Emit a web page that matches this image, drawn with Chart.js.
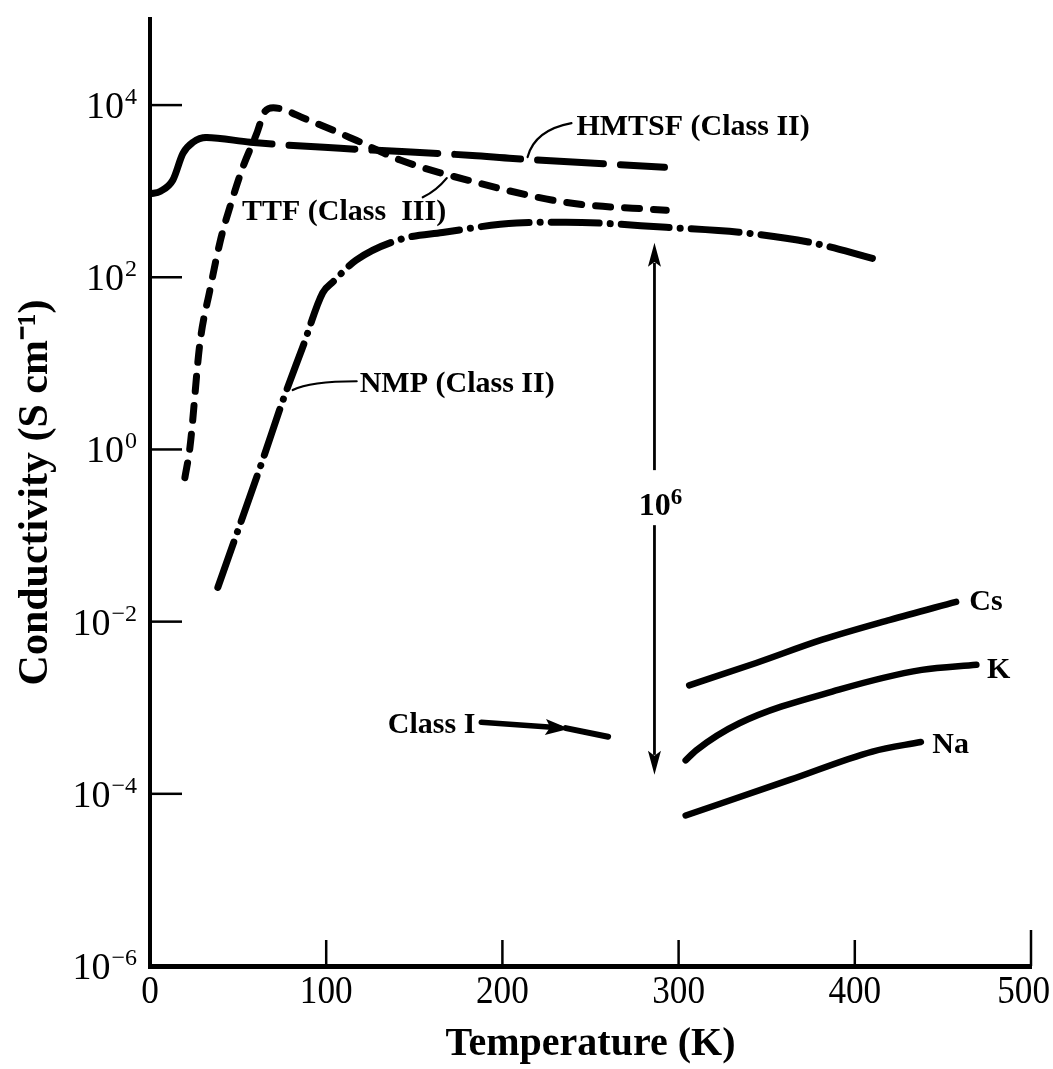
<!DOCTYPE html>
<html><head><meta charset="utf-8">
<script src="https://cdn.jsdelivr.net/npm/chart.js@4/dist/chart.umd.min.js"></script>
<style>html,body{margin:0;padding:0;background:#fff;}#wrap{width:1053px;height:1069px;}</style>
</head><body><div id="wrap"><canvas id="c" width="1053" height="1069"></canvas></div>
<script>
// ---- data (temperature K, conductivity S/cm) ----
const xTicks = [0, 100, 200, 300, 400, 500];
const yTickExps = [-6, -4, -2, 0, 2, 4];

const hmtsfT = [0, 6, 13, 18.7, 24.4, 32, 57, 108, 183, 206, 292];
const hmtsfS = [930, 1000, 1350, 2750, 3700, 4200, 3700, 3150, 2600, 2400, 1900];

const ttfT = [19.8, 22.7, 28.3, 34, 40, 45.4, 52.7, 60.6, 65, 70, 89, 117, 142, 183, 236, 293];
const ttfS = [0.47, 1.07, 17, 71, 270, 660, 1900, 4700, 8300, 9300, 6800, 3900, 2300, 1300, 740, 600];

const nmpT = [38.5, 48, 64, 75.4, 86.7, 98, 104, 117, 142, 166, 208, 236, 293, 340, 376, 410];
const nmpS = [0.025, 0.089, 0.76, 3.7, 15.5, 66, 89, 158, 275, 331, 427, 437, 380, 324, 251, 166];

const classIT = [236, 260];
const classIS = [5.8e-4, 4.6e-4];

const csT = [306, 344, 381.5, 420, 457.5];
const csS = [0.00182, 0.00331, 0.00617, 0.0105, 0.0170];

const kT = [304, 310, 334.5, 391, 438, 469];
const kS = [2.45e-4, 3.2e-4, 6.6e-4, 1.62e-3, 2.75e-3, 3.16e-3];

const naT = [304, 363, 410, 437.5];
const naS = [5.6e-5, 1.45e-4, 3.1e-4, 4.0e-4];

// annotation texts (anchor in data units)
const labelTexts = ['HMTSF (Class II)', 'TTF (Class  III)', 'NMP (Class II)', 'Class I', 'Cs', 'K', 'Na'];
const labelT = [242, 52.2, 119, 135, 465, 475, 444];
const labelS = [5560, 571, 5.75, 6.3e-4, 0.017, 0.00275, 3.7e-4];

const pts = (xs, ys) => xs.map((v, i) => ({x: v, y: ys[i]}));

const FONT = '"Liberation Serif", "Times New Roman", serif';

const base = {pointRadius: 0, borderColor: '#000', backgroundColor: '#000', borderWidth: 7,
  borderCapStyle: 'round', borderJoinStyle: 'round', cubicInterpolationMode: 'monotone', fill: false};

const decor = {
  id: 'decor',
  afterDraw(chart) {
    const {ctx, scales: {x, y}} = chart;
    const X = v => x.getPixelForValue(v), Y = v => y.getPixelForValue(v);
    ctx.save();
    ctx.strokeStyle = '#000'; ctx.fillStyle = '#000';
    // inward tick marks
    ctx.lineWidth = 2.5; ctx.lineCap = 'butt';
    xTicks.forEach(t => { if (t === 0) return; const px = X(t);
      ctx.beginPath(); ctx.moveTo(px, y.bottom); ctx.lineTo(px, y.bottom - (t === 500 ? 36 : 26)); ctx.stroke(); });
    yTickExps.forEach(e => { if (e === -6) return; const py = Y(Math.pow(10, e));
      ctx.beginPath(); ctx.moveTo(x.left, py); ctx.lineTo(x.left + 32, py); ctx.stroke(); });
    // x tick labels
    ctx.textBaseline = 'alphabetic'; ctx.textAlign = 'center';
    ctx.font = '40px ' + FONT;
    const sx = 0.88;
    xTicks.forEach(t => { const txt = String(t); const w = ctx.measureText(txt).width * sx;
      let cx = X(t); if (cx + w / 2 > 1050) cx = 1050 - w / 2;
      ctx.save(); ctx.translate(cx, y.bottom + 37); ctx.scale(sx, 1); ctx.fillText(txt, 0, 0); ctx.restore(); });
    // y tick labels with superscripts
    ctx.textAlign = 'left';
    yTickExps.forEach(e => {
      const py = Y(Math.pow(10, e));
      const exp = e < 0 ? '\u2212' + (-e) : String(e);
      ctx.font = '38px ' + FONT; const wb = ctx.measureText('10').width;
      ctx.font = '24px ' + FONT; const we = ctx.measureText(exp).width;
      const right = x.left - 13; const left = right - wb - we - 1;
      ctx.font = '38px ' + FONT; ctx.fillText('10', left, py + 13);
      ctx.font = '24px ' + FONT; ctx.fillText(exp, left + wb + 1, py - 1);
    });
    // text labels
    ctx.font = 'bold 30px ' + FONT; ctx.textBaseline = 'middle';
    labelTexts.forEach((s, i) => ctx.fillText(s, X(labelT[i]), Y(labelS[i])));
    // 10^6 label
    const c6x = X(291), c6y = Y(0.245);
    ctx.font = 'bold 32px ' + FONT; const w10 = ctx.measureText('10').width;
    ctx.textBaseline = 'alphabetic';
    ctx.fillText('10', c6x - 24, c6y + 13);
    ctx.font = 'bold 23px ' + FONT; ctx.fillText('6', c6x - 24 + w10, c6y + 2);
    // leader lines
    ctx.lineWidth = 2.2; ctx.lineCap = 'round';
    const leader = (a, c, b) => { ctx.beginPath(); ctx.moveTo(X(a[0]), Y(a[1]));
      ctx.quadraticCurveTo(X(c[0]), Y(c[1]), X(b[0]), Y(b[1])); ctx.stroke(); };
    leader([214.3, 2490], [218.3, 5130], [239.2, 6170]);     // HMTSF
    leader([168.4, 1420], [162.7, 1020], [154.8, 850]);      // TTF
    leader([81, 4.9], [90.7, 6.2], [117.3, 6.2]);            // NMP
    // double arrow (10^6 span)
    const ax = X(286.3);
    ctx.lineWidth = 2.8; ctx.lineCap = 'butt';
    ctx.beginPath(); ctx.moveTo(ax, Y(251) + 20); ctx.lineTo(ax, Y(0.575)); ctx.stroke();
    ctx.beginPath(); ctx.moveTo(ax, Y(0.132)); ctx.lineTo(ax, Y(1.66e-4) - 20); ctx.stroke();
    const tri = (tx, ty, dx, dy, len, half) => { const nx = -dy, ny = dx;
      ctx.beginPath(); ctx.moveTo(tx, ty);
      ctx.lineTo(tx - dx * len + nx * half, ty - dy * len + ny * half);
      ctx.lineTo(tx - dx * len * 0.8, ty - dy * len * 0.8);
      ctx.lineTo(tx - dx * len - nx * half, ty - dy * len - ny * half); ctx.closePath(); ctx.fill(); };
    tri(ax, Y(251), 0, -1, 24, 6.5);
    tri(ax, Y(1.66e-4), 0, 1, 24, 6.5);
    // Class I arrow
    const p1x = X(188), p1y = Y(6.8e-4), p2x = X(238), p2y = Y(5.7e-4);
    ctx.lineWidth = 5.5; ctx.lineCap = 'round';
    ctx.beginPath(); ctx.moveTo(p1x, p1y); ctx.lineTo(p2x - 10, p2y - 1); ctx.stroke();
    const L = Math.hypot(p2x - p1x, p2y - p1y);
    tri(p2x, p2y, (p2x - p1x) / L, (p2y - p1y) / L, 24, 8);
    ctx.restore();
  }
};

new Chart(document.getElementById('c'), {
  type: 'line',
  data: {
    datasets: [
      Object.assign({}, base, {label: 'HMTSF (Class II)', data: pts(hmtsfT, hmtsfS),
        segment: {borderDash: c => c.p0.parsed.x < 28 ? [] : [66, 17]}}),
      Object.assign({}, base, {label: 'TTF (Class III)', data: pts(ttfT, ttfS), borderDash: [15, 14]}),
      Object.assign({}, base, {label: 'NMP (Class II)', data: pts(nmpT, nmpS), borderDash: [48, 11, 0.1, 11]}),
      Object.assign({}, base, {label: 'Class I', data: pts(classIT, classIS), borderWidth: 6}),
      Object.assign({}, base, {label: 'Cs', data: pts(csT, csS), borderWidth: 6.5}),
      Object.assign({}, base, {label: 'K', data: pts(kT, kS), borderWidth: 6.5}),
      Object.assign({}, base, {label: 'Na', data: pts(naT, naS), borderWidth: 6.5})
    ]
  },
  options: {
    responsive: false, animation: false, devicePixelRatio: 1,
    layout: {padding: {left: 0, right: 22, top: 19, bottom: 0}, autoPadding: false},
    plugins: {legend: {display: false}, tooltip: {enabled: false}},
    scales: {
      x: {type: 'linear', min: 0, max: 500, position: 'bottom',
        ticks: {display: false, stepSize: 100},
        grid: {display: false, drawTicks: false},
        border: {display: true, color: '#000', width: 5},
        title: {display: true, text: 'Temperature (K)', color: '#000',
          font: {family: FONT, size: 40, weight: 'bold'}, padding: {top: 0, bottom: 0}},
        afterFit(s) { s.height = 103; }
      },
      y: {type: 'logarithmic', min: 1e-6, max: 1e5, position: 'left',
        ticks: {display: false},
        grid: {display: false, drawTicks: false},
        border: {display: true, color: '#000', width: 4},
        title: {display: true, text: 'Conductivity (S cm\u207B\u00B9)', color: '#000',
          font: {family: FONT, size: 42, weight: 'bold'}, padding: {top: 11, bottom: 0}},
        afterFit(s) { s.width = 150; }
      }
    }
  },
  plugins: [decor]
});
</script></body></html>
